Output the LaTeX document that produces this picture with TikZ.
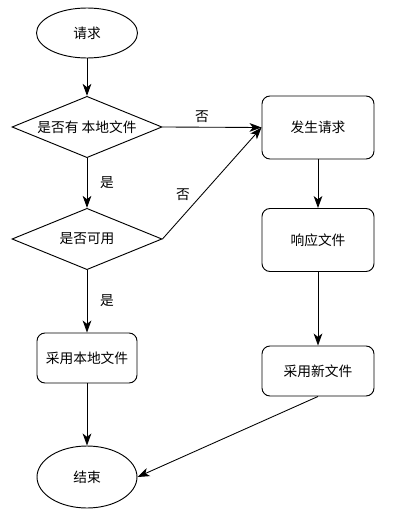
\documentclass[tikz,border=0pt]{standalone}
\usepackage{fontspec}
\setmainfont{Noto Sans CJK SC}
\usepackage{tikz}
\usetikzlibrary{shapes}
\usetikzlibrary{arrows.meta}

\tikzset{
  term/.style={draw, ellipse, line width=0.7pt, inner sep=0pt},
  decide/.style={draw, diamond, line width=0.7pt, inner sep=0pt, aspect=2.4,
    minimum width=112.5pt, minimum height=46pt},
  proc/.style={draw, rectangle, rounded corners=6pt, line width=0.7pt, inner sep=0pt},
  flow/.style={-{Stealth[length=9pt, width=6.5pt, inset=2.5pt]}, line width=0.65pt},
}

\begin{document}
\begin{tikzpicture}[x=0.75pt, y=-0.75pt, font=\fontsize{10.3pt}{12pt}\selectfont]
\useasboundingbox (0,0) rectangle (405,524);
\node[term, minimum width=75.75pt, minimum height=37.5pt] (req) at (87,33) {请求};
\node[decide] (haslocal) at (87,127) {是否有 本地文件};
\node[decide] (usable) at (87,239) {是否可用};
\node[proc, minimum width=75pt, minimum height=37.5pt] (uselocal) at (87,358) {采用本地文件};
\node[term, minimum width=75pt, minimum height=46.5pt] (done) at (87,477) {结束};
\node[proc, minimum width=84pt, minimum height=47.25pt] (send) at (318,127.5) {发生请求};
\node[proc, minimum width=84pt, minimum height=47.25pt] (reply) at (318,240) {响应文件};
\node[proc, minimum width=84pt, minimum height=37.5pt] (usenew) at (318,371) {采用新文件};
\node (yes1) at (107,183) {是};
\node (yes2) at (107,301) {是};
\node (no1) at (202,117) {否};
\node (no2) at (183,195) {否};
\draw[flow] (req) -- (haslocal);
\draw[flow] (haslocal) -- (usable);
\draw[flow] (usable) -- (uselocal);
\draw[flow] (uselocal) -- (done);
\draw[flow] (haslocal.east) -- (send.west);
\draw[flow] (usable.east) -- (send.west);
\draw[flow] (send) -- (reply);
\draw[flow] (reply) -- (usenew);
\draw[flow] (usenew.south) -- (done.east);
\end{tikzpicture}
\end{document}
